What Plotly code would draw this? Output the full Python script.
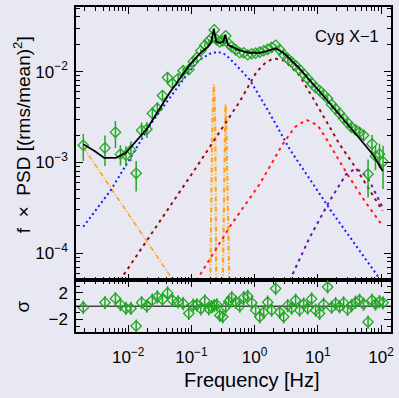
import numpy as np
import plotly.graph_objects as go

# ---------------- data (log10 units) ----------------
log_freq = [-2.711, -2.368, -2.202, -2.123, -2.036, -1.957, -1.874, -1.788, -1.705, -1.618,
            -1.539, -1.457, -1.378, -1.299, -1.210, -1.131, -1.041, -0.970,
            -0.915, -0.851, -0.788, -0.725, -0.678, -0.638, -0.599, -0.551, -0.504, -0.457,
            -0.409, -0.362, -0.299, -0.235, -0.172, -0.109, -0.046, 0.017, 0.081, 0.144,
            0.207, 0.270, 0.333, 0.397, 0.460, 0.523, 0.586, 0.649, 0.712, 0.776,
            0.839, 0.902, 0.965, 1.028, 1.092, 1.155, 1.218, 1.281, 1.344, 1.408,
            1.471, 1.534, 1.597, 1.660, 1.724, 1.795, 1.858, 1.913, 1.976, 2.032]
log_psd = [-2.811, -2.840, -2.668, -2.909, -2.920, -2.865, -3.120, -2.646, -2.635, -2.460,
           -2.405, -2.263, -2.066, -2.131, -2.077, -1.989, -1.978, -1.890,
           -1.847, -1.770, -1.710, -1.660, -1.628, -1.540, -1.650, -1.671, -1.660, -1.606,
           -1.693, -1.726, -1.759, -1.792, -1.792, -1.814, -1.803, -1.797, -1.786, -1.770,
           -1.754, -1.732, -1.710, -1.759, -1.814, -1.858, -1.896, -1.934, -1.978, -2.027,
           -2.077, -2.126, -2.175, -2.208, -2.252, -2.296, -2.361, -2.411, -2.460, -2.515,
           -2.564, -2.613, -2.641, -2.668, -2.701, -3.128, -2.796, -2.931, -2.909, -2.993]
rel_err = [0.33, 0.37, 0.33, 0.25, 0.25, 0.25, 0.37, 0.22, 0.20, 0.17,
           0.17, 0.15, 0.14, 0.12, 0.10, 0.09, 0.08, 0.07,
           0.06, 0.05, 0.05, 0.04, 0.04, 0.04, 0.04, 0.04, 0.04, 0.04,
           0.04, 0.04, 0.03, 0.03, 0.03, 0.03, 0.03, 0.03, 0.03, 0.03,
           0.03, 0.03, 0.03, 0.03, 0.03, 0.03, 0.03, 0.03, 0.03, 0.03,
           0.035, 0.035, 0.04, 0.04, 0.04, 0.045, 0.05, 0.05, 0.05, 0.055,
           0.06, 0.07, 0.08, 0.10, 0.13, 0.45, 0.25, 0.30, 0.30, 0.50]
resid_sigma = [-0.2, 0.55, 1.15, 0.25, -0.35, -0.35, -3.0, 0.55, 0.0, 0.9,
               1.4, 1.0, 2.0, 0.9, 0.65, 0.4, -1.1, 0.15,
               0.2, -0.4, 0.8, -0.4, -0.1, 0.1, 0.2, -1.4, -1.6, -0.1,
               0.7, 1.3, 0.6, 0.0, 1.3, 1.5, 0.5, -0.6, -1.6, -0.9,
               0.6, -0.6, 2.66, -0.9, -1.6, 0.1, -0.3, 0.9, -0.6, 0.3,
               -0.3, 1.1, -0.6, -1.1, 0.3, 2.9, -0.2, 0.4, -0.1, 0.5,
               -0.5, 0.1, 0.6, 0.9, 0.3, -2.4, 0.9, 0.3, 0.7, 0.5]

# model components (log10 f, log10 f*PSD)
total_lf = [-2.711, -2.526, -2.379, -2.194, -2.036, -1.878, -1.694, -1.341, -1.025, -0.867,
            -0.741, -0.686, -0.646, -0.607, -0.551, -0.496, -0.464, -0.425, -0.362, -0.235,
            -0.078, 0.081, 0.207, 0.333, 0.476, 0.712, 1.028, 1.344, 1.608, 1.870, 2.028]
total_lp = [-2.800, -2.876, -2.950, -2.950, -2.895, -2.767, -2.621, -2.230, -1.923, -1.803,
            -1.726, -1.671, -1.529, -1.671, -1.682, -1.671, -1.595, -1.704, -1.726, -1.765,
            -1.792, -1.792, -1.770, -1.743, -1.803, -1.967, -2.219, -2.471, -2.693, -2.912, -3.095]

blue_lf = [-2.711, -2.273, -1.615, -1.025, -0.867, -0.709, -0.583, -0.457, -0.314, -0.078,
           0.239, 0.555, 1.187, 1.977, 2.1]
blue_lp = [-3.709, -3.303, -2.548, -1.989, -1.869, -1.803, -1.781, -1.814, -1.912, -2.088,
           -2.460, -2.854, -3.511, -4.273, -4.40]

maroon_lf = [-2.131, -0.930, -0.235, 0.033, 0.175, 0.302, 0.476, 0.712, 0.918, 1.139,
             1.344, 1.613, 1.866, 2.024]
maroon_lp = [-4.300, -3.062, -2.329, -2.000, -1.901, -1.852, -1.880, -2.044, -2.285, -2.548,
             -2.800, -3.073, -3.347, -3.533]

red_lf = [-0.919, -0.393, 0.081, 0.444, 0.634, 0.818, 0.997, 1.139, 1.455, 1.740, 2.024]
red_lp = [-4.300, -3.709, -3.238, -2.800, -2.613, -2.531, -2.591, -2.745, -3.117, -3.424, -3.698]

purple_lf = [0.555, 0.870, 1.187, 1.450, 1.581, 1.687, 1.818, 1.949, 2.028]
purple_lp = [-4.300, -3.829, -3.424, -3.128, -3.077, -3.095, -3.205, -3.391, -3.501]

lowf_lf = [-2.711, -1.200]
lowf_lp = [-2.832, -4.390]

qpo1_lf = [-0.701, -0.686, -0.670, -0.654, -0.646, -0.635, -0.622, -0.615, -0.607]
qpo1_lp = [-4.322, -3.424, -2.657, -2.274, -2.142, -2.274, -2.657, -3.424, -4.322]
qpo2_lf = [-0.504, -0.488, -0.476, -0.466, -0.461, -0.453, -0.441, -0.425, -0.401]
qpo2_lp = [-4.322, -3.424, -2.767, -2.438, -2.358, -2.438, -2.767, -3.424, -4.322]

x_tick_vals = [0.01, 0.1, 1, 10, 100]
x_tick_text = ["10<sup>−2</sup>", "10<sup>−1</sup>", "10<sup>0</sup>", "10<sup>1</sup>", "10<sup>2</sup>"]
y_tick_vals = [1e-4, 1e-3, 1e-2]
y_tick_text = ["10<sup>−4</sup>", "10<sup>−3</sup>", "10<sup>−2</sup>"]
r_tick_vals = [-2, 2]
r_tick_text = ["−2", "2"]

# ---------------- styling ----------------
BG = "#e8e8f3"
GREEN = "#22a822"
FONT = "Liberation Sans, Arial, Helvetica, sans-serif"


def p10(a):
    return 10 ** np.asarray(a, dtype=float)


freq = p10(log_freq)
psd = p10(log_psd)
err = psd * np.asarray(rel_err)

fig = go.Figure()


def comp(lf, lp, color, dash, width=2.0):
    fig.add_trace(go.Scatter(x=p10(lf), y=p10(lp), mode="lines",
                             line=dict(color=color, dash=dash, width=width),
                             hoverinfo="skip", showlegend=False,
                             xaxis="x", yaxis="y"))


comp(lowf_lf, lowf_lp, "#ffa31a", "5px,2px,1px,2px", 1.6)
comp(qpo1_lf, qpo1_lp, "#ffa31a", "5px,2px,1px,2px", 2.2)
comp(qpo2_lf, qpo2_lp, "#ffa31a", "5px,2px,1px,2px", 2.2)
comp(blue_lf, blue_lp, "#1a1aff", "2px,3px", 2.0)
comp(maroon_lf, maroon_lp, "#9b0c0c", "3px,4px", 2.0)
comp(red_lf, red_lp, "#ff1a1a", "3px,4px", 2.0)
comp(purple_lf, purple_lp, "#6a12a8", "3px,4px", 2.0)

fig.add_trace(go.Scatter(x=freq, y=psd, mode="markers",
                         marker=dict(symbol="diamond-open", size=8, color=GREEN,
                                     line=dict(width=1.3, color=GREEN)),
                         error_y=dict(type="data", array=err, color=GREEN, thickness=1.5, width=0),
                         showlegend=False, xaxis="x", yaxis="y"))

fig.add_trace(go.Scatter(x=p10(total_lf), y=p10(total_lp), mode="lines",
                         line=dict(color="black", width=1.8),
                         showlegend=False, xaxis="x", yaxis="y"))

# residual panel
fig.add_trace(go.Scatter(x=[10 ** -2.9, 10 ** 2.3], y=[0, 0], mode="lines",
                         line=dict(color="#444444", width=1.5),
                         showlegend=False, xaxis="x2", yaxis="y2"))
fig.add_trace(go.Scatter(x=freq, y=resid_sigma, mode="markers",
                         marker=dict(symbol="diamond-open", size=8, color=GREEN,
                                     line=dict(width=1.3, color=GREEN)),
                         error_y=dict(type="constant", value=1, color=GREEN, thickness=1.5, width=0),
                         showlegend=False, xaxis="x2", yaxis="y2"))

minor_log = [m * 10.0 ** e for e in range(-5, 3) for m in range(2, 10)]

axis_common = dict(showline=True, linecolor="black", linewidth=1.5, mirror="allticks",
                   ticks="inside", ticklen=7, tickwidth=1.3, tickcolor="black",
                   showgrid=False, zeroline=False,
                   tickfont=dict(family=FONT, size=17, color="black"))

XR = [-2.826, 2.158]
fig.update_layout(
    width=399, height=398,
    margin=dict(l=76, r=7, t=5, b=66),
    paper_bgcolor=BG, plot_bgcolor=BG,
    font=dict(family=FONT, color="black"),
    showlegend=False,
    xaxis=dict(type="log", range=XR, domain=[0, 1], anchor="y",
               tickmode="array", tickvals=x_tick_vals,
               showticklabels=False,
               minor=dict(tickmode="array", tickvals=minor_log, ticks="inside", ticklen=4,
                          tickcolor="black", tickwidth=1, showgrid=False),
               **axis_common),
    yaxis=dict(type="log", range=[-4.299, -1.288], domain=[0.159, 1], anchor="x",
               tickmode="array", tickvals=y_tick_vals, ticktext=y_tick_text,
               ticklabelstandoff=3,
               minor=dict(tickmode="array", tickvals=minor_log, ticks="inside", ticklen=4,
                          tickcolor="black", tickwidth=1, showgrid=False),
               **axis_common),
    xaxis2=dict(type="log", range=XR, domain=[0, 1], anchor="y2", matches="x",
                tickmode="array", tickvals=x_tick_vals, ticktext=x_tick_text,
                ticklabelstandoff=9,
                minor=dict(tickmode="array", tickvals=minor_log, ticks="inside", ticklen=4,
                           tickcolor="black", tickwidth=1, showgrid=False),
                **axis_common),
    yaxis2=dict(range=[-3.9, 3.9], domain=[0, 0.159], anchor="x2",
                tickmode="array", tickvals=r_tick_vals, ticktext=r_tick_text,
                ticklabelstandoff=3,
                minor=dict(tickmode="array", tickvals=[-3, -1, 0, 1, 3], ticks="inside", ticklen=4,
                           tickcolor="black", tickwidth=1, showgrid=False),
                **axis_common),
)

fig.add_annotation(text="Cyg X−1", xref="paper", yref="paper", x=0.861, y=0.911,
                   xanchor="center", yanchor="middle", showarrow=False,
                   font=dict(family=FONT, size=16.5, color="black"))
fig.add_annotation(text="f  ×  PSD [(rms/mean)<sup>2</sup>]", xref="paper", yref="paper",
                   x=-0.171, y=0.606, textangle=-90, xanchor="center", yanchor="middle",
                   showarrow=False, font=dict(family=FONT, size=19, color="black"))
fig.add_annotation(text="σ", xref="paper", yref="paper",
                   x=-0.171, y=0.079, textangle=-90, xanchor="center", yanchor="middle",
                   showarrow=False, font=dict(family=FONT, size=19, color="black"))
fig.add_annotation(text="Frequency [Hz]", xref="paper", yref="paper",
                   x=0.5585, y=-0.147, xanchor="center", yanchor="middle",
                   showarrow=False, font=dict(family=FONT, size=20, color="black"))

fig.write_html("out.html")
